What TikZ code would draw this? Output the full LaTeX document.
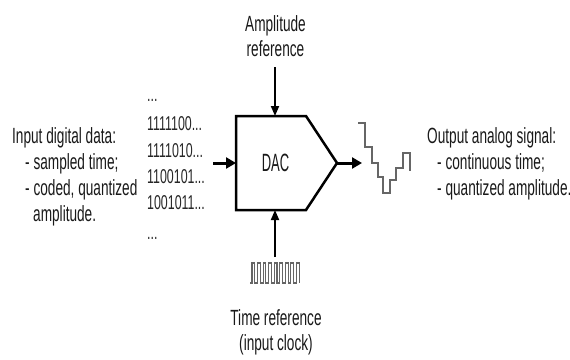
\documentclass[tikz,border=0pt]{standalone}
\usepackage{fontspec}
\setmainfont{Liberation Sans}[FakeStretch=0.62]
\newfontfamily\dacfont{Liberation Sans}[FakeStretch=0.52]
\usetikzlibrary{arrows.meta}
\newcommand\tdots{...}

\begin{document}
\begin{tikzpicture}[x=1pt,y=-1pt,
  txt/.style={inner sep=0pt,anchor=base west,text=black!90,font=\fontsize{22}{26}\selectfont},
  ctxt/.style={txt,anchor=base},
  bits/.style={inner sep=0pt,anchor=base west,text=black!85,font=\fontsize{20}{24}\selectfont},
  fatarrow/.style={line width=3pt,-{Triangle[length=10pt,width=11pt]}},
  thinarrow/.style={line width=1.8pt,-{Triangle[length=10pt,width=8pt]}},
  wave/.style={draw=black!60,line width=2.2pt}]
  \useasboundingbox (0,0) rectangle (570,359);
  % DAC block (pentagon pointing right)
  \coordinate (nw) at (236,116);
  \coordinate (ne) at (306,116);
  \coordinate (tip) at (337,163);
  \coordinate (se) at (306,210);
  \coordinate (sw) at (236,210);
  \draw[line width=2.5pt,line join=miter] (nw) -- (ne) -- (tip) -- (se) -- (sw) -- cycle;
  \node[font=\dacfont\fontsize{25}{28}\selectfont,text=black!90,inner sep=0pt] (dac) at (275.5,163) {DAC};
  \coordinate (dac-w) at (236,163);
  \coordinate (dac-n) at (275,116);
  \coordinate (dac-s) at (275,210);
  % arrows in and out
  \coordinate (in-tail) at (213,163);
  \coordinate (out-head) at (362,163);
  \coordinate (ampl-tail) at (275,67);
  \coordinate (clk-tail) at (275,257);
  \draw[fatarrow] (in-tail) -- (dac-w);
  \draw[fatarrow] (tip) -- (out-head);
  \draw[thinarrow] (ampl-tail) -- (dac-n);
  \draw[thinarrow] (clk-tail) -- (dac-s);
  % top and bottom labels
  \node[ctxt] (ampl1) at (275.5,31) {Amplitude};
  \node[ctxt] (ampl2) at (275.5,56) {reference};
  \node[ctxt] (time1) at (276,325) {Time reference};
  \node[ctxt] (time2) at (276,350) {(input clock)};
  % input data words
  \foreach \w/\y [count=\i] in {\tdots/101,1111100\tdots/130,1111010\tdots/157,1100101\tdots/183,1001011\tdots/209,\tdots/239}
    \node[bits] (word\i) at (147,\y) {\w};
  % left description
  \node[txt] (in1) at (12,143) {Input digital data:};
  \node[txt] (in2) at (25,169) {- sampled time;};
  \node[txt] (in3) at (25,195) {- coded, quantized};
  \node[txt] (in4) at (33,221) {amplitude.};
  % right description
  \node[txt] (out1) at (427,143) {Output analog signal:};
  \node[txt] (out2) at (437,169) {- continuous time;};
  \node[txt] (out3) at (437,195) {- quantized amplitude.};
  % staircase output
  \draw[wave,line cap=rect] (359,123) -| (365,147) -| (372,163) -| (378,177) -| (383,193)
    -| (390,180) -| (396,168) -| (403,153) -| (410,170);
  % clock pulses
  \coordinate (clk0) at (250,283);
  \draw[wave,line width=1.1pt] (clk0) foreach \k in {0,...,8} {
    -- ({252+5.55*\k},283) -- ({252+5.55*\k},263) -- ({254.8+5.55*\k},263) -- ({254.8+5.55*\k},283)};
\end{tikzpicture}
\end{document}
